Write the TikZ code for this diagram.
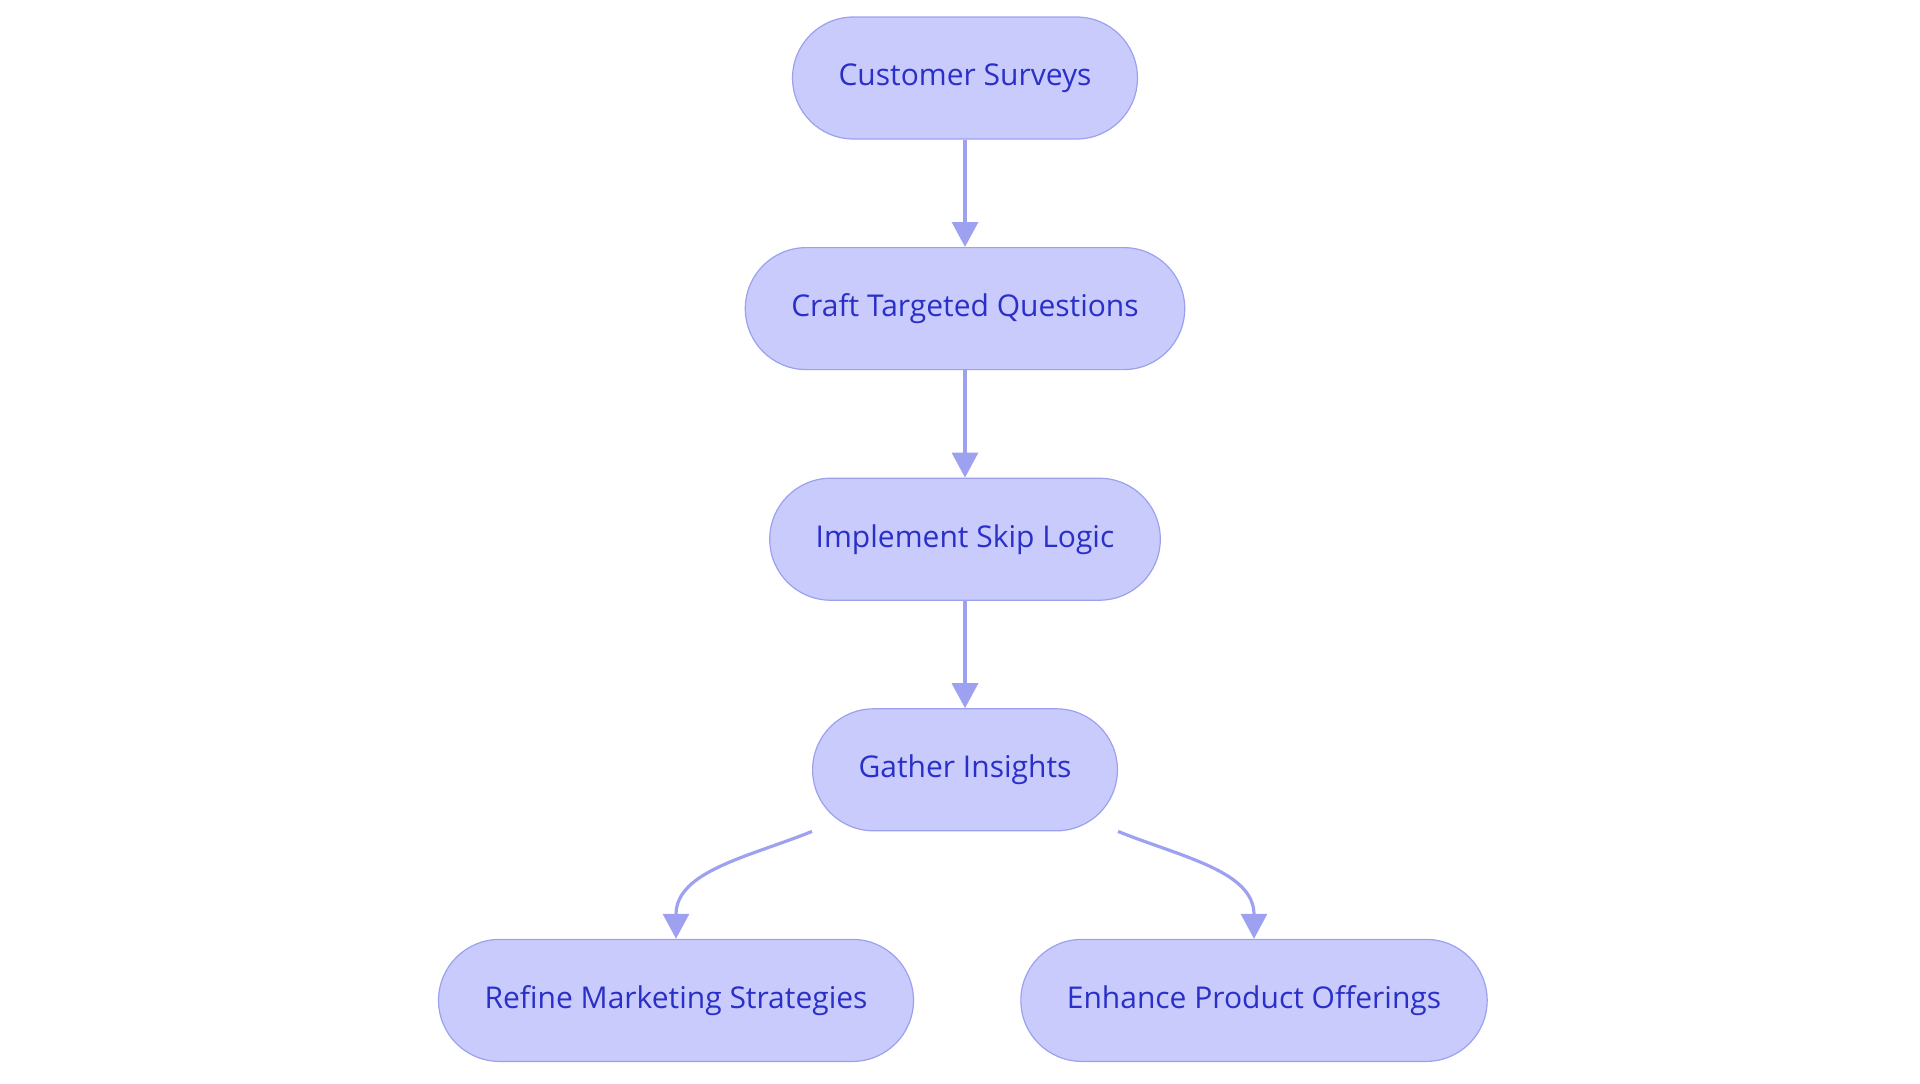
\documentclass[tikz,border=0pt]{standalone}
\usepackage{fontspec}
\setmainfont{Open Sans}
\usetikzlibrary{positioning,arrows.meta}

\definecolor{boxfill}{HTML}{C9CBFC}
\definecolor{boxline}{HTML}{9CA1EE}
\definecolor{boxtext}{HTML}{2A2FC8}
\definecolor{arrowline}{HTML}{9DA1F0}

\tikzstyle{block} = [rectangle, draw=boxline, fill=boxfill, text=boxtext, line width=0.6pt, text centered, minimum height=61pt, inner xsep=23pt, rounded corners=30.5pt, font=\fontsize{15pt}{18pt}\selectfont]
\tikzstyle{arrow} = [draw=arrowline, line width=1.6pt, -{Triangle[length=12.5pt,width=13pt]}]

\begin{document}
\begin{tikzpicture}[node distance=53.7pt, auto]
    \useasboundingbox (0,0) rectangle (960pt,-541.5pt);

    \node[block] (survey) at (482.5pt,-39pt) {Customer Surveys};
    \node[block, below=of survey] (questions) {Craft Targeted Questions};
    \node[block, below=of questions] (skip) {Implement Skip Logic};
    \node[block, below=of skip] (insights) {Gather Insights};
    \node[block, below=of insights, xshift=-144.5pt] (marketing) {Refine Marketing Strategies};
    \node[block, below=of insights, xshift=144.5pt] (offerings) {Enhance Product Offerings};

    % lines
    \draw [arrow] (survey.south) to (questions.north);
    \draw [arrow] (questions.south) to (skip.north);
    \draw [arrow] (skip.south) to (insights.north);
    \draw [arrow] (insights.south west) to[out=202, in=90] (marketing.north);
    \draw [arrow] (insights.south east) to[out=-22, in=90] (offerings.north);
\end{tikzpicture}
\end{document}
